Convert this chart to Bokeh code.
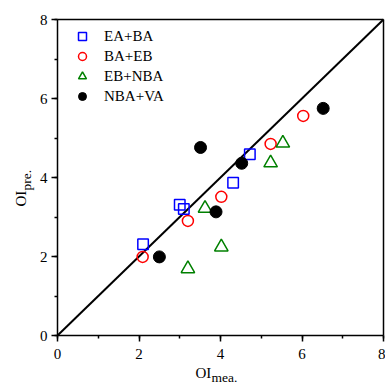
import math
from bokeh.plotting import figure
from bokeh.models import (Label, Legend, LegendItem, SingleIntervalTicker, Range1d,
                          LinearAxis)
from bokeh.embed import file_html
from bokeh.resources import INLINE

# data
ea_ba_x = [2.10, 3.00, 3.10, 4.31, 4.72]
ea_ba_y = [2.31, 3.31, 3.20, 3.87, 4.59]
ba_eb_x = [2.09, 3.20, 4.02, 5.23, 6.03]
ba_eb_y = [1.99, 2.90, 3.51, 4.85, 5.56]
eb_nba_x = [3.20, 4.02, 3.62, 5.23, 5.53]
eb_nba_y = [1.69, 2.24, 3.22, 4.37, 4.87]
nba_va_x = [2.50, 3.89, 3.51, 4.52, 6.52]
nba_va_y = [1.99, 3.13, 4.76, 4.36, 5.75]
line_x = [0, 8]
line_y = [0, 8]
series_names = ["EA+BA", "BA+EB", "EB+NBA", "NBA+VA"]
axis_min, axis_max = 0, 8

FONT = "Liberation Serif"

W = H = 385
# plot box: left 57px, right 383px, top 19px, bottom 335px
sx = (383 - 57) / (axis_max - axis_min)
sy = (335 - 19) / (axis_max - axis_min)
x_range = Range1d(axis_min - 57 / sx, axis_max + (W - 383) / sx)
y_range = Range1d(axis_min - (H - 335) / sy, axis_max + 19 / sy)

p = figure(width=W, height=H, x_range=x_range, y_range=y_range,
           output_backend="svg", toolbar_location=None, x_axis_location=None,
           y_axis_location=None, min_border=0)
p.background_fill_color = "white"
p.border_fill_color = "white"
p.xgrid.visible = False
p.ygrid.visible = False
p.outline_line_color = None


def style_axis(ax, labels=True):
    ax.fixed_location = axis_min
    ax.bounds = (axis_min, axis_max)
    ax.ticker = SingleIntervalTicker(interval=2, num_minor_ticks=2)
    ax.axis_line_width = 1.5
    ax.axis_line_color = "black"
    ax.major_tick_in = 0
    ax.minor_tick_in = 0
    if labels:
        ax.major_tick_out = 6
        ax.minor_tick_out = 3
        ax.major_label_text_font_size = "15px"
    else:
        ax.major_tick_out = 0
        ax.minor_tick_out = 0
        ax.major_label_text_font_size = "0px"
        ax.major_label_text_alpha = 0
    ax.major_tick_line_width = 1.5
    ax.minor_tick_line_width = 1.5
    ax.major_tick_line_color = "black"
    ax.minor_tick_line_color = "black"
    ax.major_label_text_font = FONT
    ax.major_label_text_color = "black"


xb = LinearAxis()
style_axis(xb)
xb.major_label_standoff = 7
p.add_layout(xb, "below")
yl = LinearAxis()
style_axis(yl)
yl.major_label_standoff = 4
p.add_layout(yl, "left")
xt = LinearAxis()
style_axis(xt, labels=False)
xt.fixed_location = axis_max
p.add_layout(xt, "above")
yr = LinearAxis()
style_axis(yr, labels=False)
yr.fixed_location = axis_max
p.add_layout(yr, "right")

p.line(line_x, line_y, line_color="black", line_width=2)

r1 = p.scatter(ea_ba_x, ea_ba_y, marker="square", size=10.5, fill_color=None,
               line_color="blue", line_width=1.5)
r2 = p.scatter(ba_eb_x, ba_eb_y, marker="circle", size=11, fill_color=None,
               line_color="red", line_width=1.5)
r3 = p.scatter(eb_nba_x, eb_nba_y, marker="triangle", size=13.5, fill_color=None,
               line_color="green", line_width=1.5)
r4 = p.scatter(nba_va_x, nba_va_y, marker="circle", size=12, fill_color="black",
               line_color="black")

legend = Legend(items=[LegendItem(label=n, renderers=[r]) for n, r in
                       zip(series_names, [r1, r2, r3, r4])],
                location=(64, H - 26 - 80), margin=0, padding=0, spacing=0,
                glyph_width=36, glyph_height=20, label_height=20, label_standoff=4,
                label_text_font=FONT, label_text_font_size="15px",
                label_text_color="black",
                border_line_color=None, background_fill_alpha=0)
p.add_layout(legend)

# axis titles with subscripts (screen px from bottom-left of canvas)
p.add_layout(Label(x=195, y=H - 372, x_units="screen", y_units="screen", text="OI",
                   text_font=FONT, text_font_size="15px", text_color="black",
                   text_align="left", text_baseline="alphabetic"))
p.add_layout(Label(x=211, y=H - 377, x_units="screen", y_units="screen", text="mea.",
                   text_font=FONT, text_font_size="13.5px", text_color="black",
                   text_align="left", text_baseline="alphabetic"))
p.add_layout(Label(x=20, y=H - 206, x_units="screen", y_units="screen", text="OI",
                   angle=math.pi / 2, text_font=FONT, text_color="black",
                   text_font_size="15px", text_align="left", text_baseline="alphabetic"))
p.add_layout(Label(x=26, y=H - 190, x_units="screen", y_units="screen", text="pre.",
                   angle=math.pi / 2, text_font=FONT, text_color="black",
                   text_font_size="13.5px", text_align="left", text_baseline="alphabetic"))

open("out.html", "w").write(file_html(p, INLINE))
